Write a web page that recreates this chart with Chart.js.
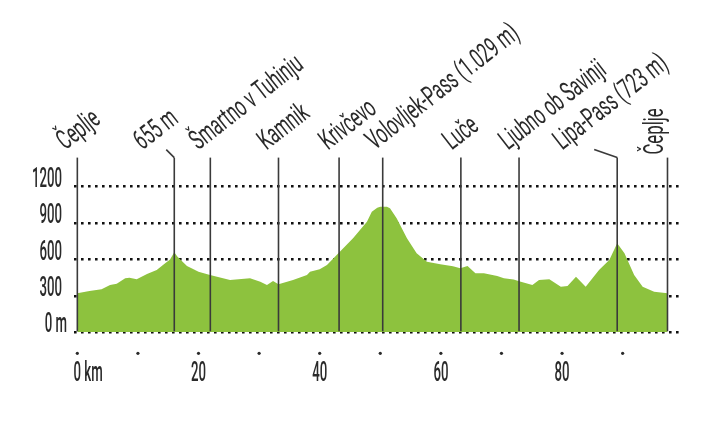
<!DOCTYPE html>
<html>
<head>
<meta charset="utf-8">
<script src="https://cdn.jsdelivr.net/npm/chart.js@4.4.1/dist/chart.umd.min.js"></script>
<style>
  body { margin: 0; background: #fff; }
  #wrap { width: 712px; height: 423px; position: relative; }
</style>
</head>
<body>
<div id="wrap"><canvas id="profile"></canvas></div>
<script>
// elevation profile, km along the route / metres
const km = [0, 2, 4, 5.4, 6.5, 7.9, 8.6, 9.8, 11.5, 13.1, 14.5, 15.3, 16.0, 16.5, 17.2, 18.1, 20, 21.9, 25.2, 28.5, 30.2, 31.3, 32.3, 33.2, 35.6, 37.9, 38.4, 40, 41.2, 42.8, 45.5, 47.8, 48.6, 49.5, 50, 51.1, 51.6, 52.7, 54.4, 56, 57.7, 59.9, 62, 63.2, 64.4, 65.7, 67.1, 69.3, 70.4, 72, 73.2, 75.1, 76.2, 77.9, 79.8, 80.9, 82.3, 83.9, 86.1, 87.8, 89.1, 90.3, 91.9, 93.3, 95.2, 97.4];
const elevation = [321, 340, 355, 390, 400, 445, 450, 437, 480, 514, 570, 600, 660, 625, 590, 547, 500, 472, 431, 445, 417, 390, 423, 396, 431, 472, 500, 520, 555, 637, 775, 912, 994, 1027, 1035, 1035, 1022, 940, 775, 651, 582, 560, 545, 527, 547, 486, 486, 464, 445, 435, 417, 390, 431, 437, 376, 382, 458, 376, 514, 596, 734, 651, 472, 376, 335, 321];

// places along the route
const placeKm = [0, 16.0, 21.95, 33.2, 43.2, 50.4, 63.3, 72.9, 89.1, 97.4];
const placeNames = ['Čeplje', '655 m', 'Šmartno v Tuhinju', 'Kamnik', 'Krivčevo', 'Volovljek-Pass (1.029 m)', 'Luče', 'Ljubno ob Savinji', 'Lipa-Pass (723 m)', 'Čeplje'];
// how far left of its line a name starts (px), and name rotation
const placeShift = [12, 32, 12, 12, 11, 8, 9, 11, 55, 0];
const placeAngle = [-38, -38, -38, -38, -38, -38, -38, -38, -38, -90];

const yTicks = [0, 300, 600, 900, 1200];
const xTicks = [0, 10, 20, 30, 40, 50, 60, 70, 80, 90];
const xLabelEvery = 20;

const GREEN = 'rgb(141,194,62)';
const INK = '#2a2a2a';
const FONT = '500 28px Roboto';
const NAME_FONT = '400 28px Roboto';

function squeezeText(ctx, text, x, y, sx, align) {
  ctx.save();
  ctx.translate(x, y);
  ctx.scale(sx, 1);
  ctx.textAlign = align;
  ctx.fillText(text, 0, 0);
  ctx.restore();
}

const profilePlugin = {
  id: 'profileDeco',
  afterDatasetsDraw(chart) {
    const ctx = chart.ctx;
    const xs = chart.scales.x;
    const area = chart.chartArea;
    ctx.save();
    ctx.strokeStyle = '#3a3a3a';
    ctx.lineWidth = 1.6;
    placeKm.forEach((k, i) => {
      const px = xs.getPixelForValue(k);
      ctx.beginPath();
      ctx.moveTo(px, area.top);
      ctx.lineTo(px, area.bottom - 1);
      ctx.stroke();
      // leaders for the summit notes
      if (placeShift[i] > 20) {
        ctx.beginPath();
        ctx.moveTo(px - (placeShift[i] > 40 ? 23 : 8), area.top - 8);
        ctx.lineTo(px, area.top);
        ctx.stroke();
      }
    });
    ctx.restore();
  },
  afterDraw(chart) {
    const ctx = chart.ctx;
    const xs = chart.scales.x;
    const ys = chart.scales.y;
    const area = chart.chartArea;
    ctx.save();
    ctx.fillStyle = INK;
    ctx.textBaseline = 'alphabetic';

    // elevation labels, squeezed so "1200" is about 30px wide
    ctx.font = FONT;
    const sx = 30 / ctx.measureText('1200').width;
    ys.ticks.forEach(t => {
      const py = ys.getPixelForValue(t.value);
      if (t.value === 0) {
        squeezeText(ctx, '0 m', 67, py, sx, 'right');
      } else {
        squeezeText(ctx, String(t.value), 62, py, sx, 'right');
      }
    });

    // distance dots + labels
    xs.ticks.forEach(t => {
      const px = xs.getPixelForValue(t.value);
      ctx.beginPath();
      ctx.arc(px, area.bottom + 21, 1.6, 0, Math.PI * 2);
      ctx.fill();
      if (t.value % xLabelEvery === 0) {
        if (t.value === 0) {
          const w = ctx.measureText('0').width * sx;
          squeezeText(ctx, '0 km', px - w / 2, area.bottom + 49, sx, 'left');
        } else {
          squeezeText(ctx, String(t.value), px, area.bottom + 49, sx, 'center');
        }
      }
    });

    // place names
    ctx.font = NAME_FONT;
    placeKm.forEach((k, i) => {
      const px = xs.getPixelForValue(k);
      ctx.save();
      if (placeAngle[i] === -90) {
        ctx.translate(px - 4, area.top - 3);
      } else {
        ctx.translate(px - placeShift[i], area.top - 7);
      }
      ctx.rotate(placeAngle[i] * Math.PI / 180);
      ctx.scale(0.6, 1);
      ctx.textAlign = 'left';
      ctx.fillText(placeNames[i], 0, 0);
      ctx.restore();
    });
    ctx.restore();
  }
};

new Chart(document.getElementById('profile'), {
  type: 'line',
  data: {
    datasets: [{
      data: km.map((k, i) => ({ x: k, y: elevation[i] })),
      backgroundColor: GREEN,
      borderWidth: 0,
      pointRadius: 0,
      fill: 'origin',
      tension: 0
    }]
  },
  options: {
    responsive: true,
    maintainAspectRatio: false,
    animation: false,
    events: [],
    layout: { padding: { left: 74.3, right: 33, top: 157.6, bottom: 90.7 } },
    plugins: { legend: { display: false }, tooltip: { enabled: false } },
    scales: {
      x: {
        type: 'linear',
        min: -0.5,
        max: 99.3,
        afterBuildTicks: s => { s.ticks = xTicks.map(v => ({ value: v })); },
        grid: { display: false, drawTicks: false },
        border: { display: false },
        ticks: { display: false }
      },
      y: {
        min: 0,
        max: 1440,
        z: 1,
        afterBuildTicks: s => { s.ticks = yTicks.map(v => ({ value: v })); },
        grid: { color: '#111', lineWidth: 2.6, drawTicks: false },
        border: { display: false, dash: [2.6, 4.4] },
        ticks: { display: false }
      }
    }
  },
  plugins: [profilePlugin]
});
</script>
</body>
</html>
